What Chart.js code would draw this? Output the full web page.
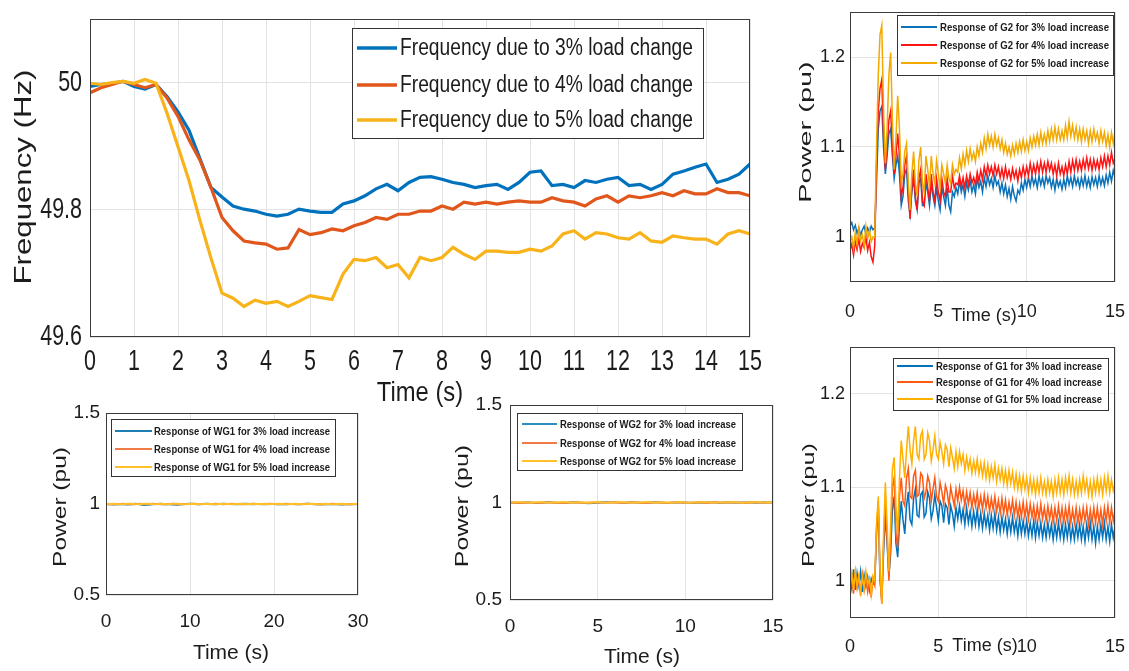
<!DOCTYPE html>
<html>
<head>
<meta charset="utf-8">
<script src="https://cdn.jsdelivr.net/npm/chart.js@4.4.1/dist/chart.umd.min.js"></script>
<style>
  html, body { margin: 0; padding: 0; background: #fff; }
  body { width: 1129px; height: 671px; position: relative; overflow: hidden; }
  canvas { position: absolute; }
</style>
</head>
<body>
<canvas id="freqChart" width="780" height="410" style="left:0px;top:0px"></canvas>
<canvas id="wg1Chart" width="400" height="271" style="left:0px;top:400px"></canvas>
<canvas id="wg2Chart" width="400" height="276" style="left:400px;top:395px"></canvas>
<canvas id="g2Chart" width="349" height="340" style="left:780px;top:0px"></canvas>
<canvas id="g1Chart" width="349" height="331" style="left:780px;top:340px"></canvas>
<script>
// ---- frequency (Hz), sampled every 0.25 s from 0 to 15 s
const freqStep = 0.25;
const freq3 = [49.994, 49.997, 49.999, 50.002, 49.994, 49.990, 49.997, 49.978, 49.954, 49.925,
  49.880, 49.835, 49.820, 49.806, 49.801, 49.798, 49.793, 49.790, 49.793, 49.801,
  49.798, 49.796, 49.796, 49.809, 49.814, 49.822, 49.833, 49.840, 49.830, 49.843,
  49.851, 49.852, 49.848, 49.843, 49.840, 49.835, 49.838, 49.840, 49.832, 49.843,
  49.859, 49.861, 49.838, 49.840, 49.835, 49.846, 49.843, 49.848, 49.851, 49.838,
  49.840, 49.832, 49.840, 49.856, 49.861, 49.867, 49.872, 49.843, 49.848, 49.856,
  49.872];
const freq4 = [49.984, 49.992, 49.997, 50.002, 49.997, 49.992, 49.997, 49.976, 49.947, 49.910,
  49.878, 49.835, 49.788, 49.767, 49.751, 49.748, 49.746, 49.738, 49.740, 49.769,
  49.761, 49.764, 49.770, 49.767, 49.775, 49.780, 49.788, 49.785, 49.793, 49.793,
  49.798, 49.798, 49.806, 49.801, 49.812, 49.809, 49.812, 49.809, 49.812, 49.814,
  49.812, 49.812, 49.819, 49.814, 49.812, 49.806, 49.817, 49.822, 49.812, 49.822,
  49.819, 49.822, 49.827, 49.822, 49.830, 49.825, 49.825, 49.833, 49.827, 49.827,
  49.822];
const freq5 = [49.999, 49.997, 50.000, 50.002, 49.999, 50.005, 49.999, 49.952, 49.899, 49.846,
  49.783, 49.724, 49.669, 49.661, 49.648, 49.658, 49.653, 49.656, 49.648, 49.656,
  49.665, 49.662, 49.659, 49.699, 49.722, 49.720, 49.725, 49.709, 49.714, 49.693,
  49.725, 49.720, 49.725, 49.741, 49.730, 49.722, 49.735, 49.735, 49.733, 49.733,
  49.738, 49.735, 49.743, 49.762, 49.767, 49.754, 49.764, 49.762, 49.756, 49.754,
  49.764, 49.751, 49.749, 49.759, 49.756, 49.754, 49.754, 49.746, 49.762, 49.767,
  49.762];
const freqXTicks = [0, 1, 2, 3, 4, 5, 6, 7, 8, 9, 10, 11, 12, 13, 14, 15];
const freqYTicks = [49.6, 49.8, 50];

// ---- synchronous generators G2 / G1 (pu), sampled every 0.1 s from 0 to 15 s
const genStep = 0.1;
const g2Load3 = [1.012, 1.016, 1.008, 1.013, 1.004, 1.010, 1.002, 1.008, 1.012, 1.003, 1.010, 1.005, 1.012, 1.008,
  1.010, 1.060, 1.120, 1.140, 1.145, 1.100, 1.070, 1.090, 1.115, 1.120, 1.090, 1.065, 1.080, 1.090, 1.070, 1.035,
  1.045, 1.070, 1.075, 1.040, 1.025, 1.050, 1.065, 1.040, 1.030, 1.060, 1.065, 1.035, 1.035, 1.060, 1.050, 1.035,
  1.060, 1.045, 1.035, 1.055, 1.040, 1.030, 1.055, 1.045, 1.035, 1.055, 1.035, 1.028, 1.050, 1.045, 1.055,
  1.048, 1.062, 1.050, 1.058, 1.045, 1.060, 1.052, 1.063, 1.050, 1.058,
  1.048, 1.065, 1.055, 1.062, 1.050, 1.066, 1.056, 1.068, 1.058, 1.065,
  1.055, 1.068, 1.058, 1.062, 1.050, 1.060, 1.048, 1.058, 1.045, 1.054,
  1.042, 1.056, 1.046, 1.040, 1.052, 1.048, 1.060, 1.052, 1.064, 1.055,
  1.066, 1.056, 1.068, 1.058, 1.065, 1.055, 1.068, 1.058, 1.066, 1.056,
  1.068, 1.060, 1.066, 1.055, 1.064, 1.052, 1.065, 1.056, 1.062, 1.053,
  1.064, 1.055, 1.068, 1.058, 1.066, 1.056, 1.068, 1.058, 1.065, 1.055,
  1.066, 1.057, 1.068, 1.056, 1.065, 1.055, 1.067, 1.058, 1.066, 1.056,
  1.068, 1.058, 1.066, 1.057, 1.069, 1.060, 1.072, 1.062, 1.074, 1.066];
const g2Load4 = [0.985, 0.992, 0.980, 0.995, 0.986, 0.998, 0.984, 0.993, 0.988, 1.000, 0.985, 0.994, 0.978, 0.972,
  0.990, 1.080, 1.140, 1.165, 1.175, 1.110, 1.075, 1.100, 1.130, 1.140, 1.100, 1.070, 1.090, 1.115, 1.090, 1.045,
  1.055, 1.080, 1.090, 1.050, 1.020, 1.055, 1.075, 1.045, 1.030, 1.065, 1.075, 1.040, 1.035, 1.070, 1.055, 1.040,
  1.070, 1.050, 1.040, 1.065, 1.050, 1.040, 1.065, 1.050, 1.045, 1.065, 1.050, 1.050, 1.068, 1.055, 1.060,
  1.058, 1.068, 1.056, 1.066, 1.055, 1.068, 1.058, 1.070, 1.060, 1.066,
  1.058, 1.072, 1.062, 1.074, 1.064, 1.078, 1.068, 1.080, 1.070, 1.078,
  1.068, 1.080, 1.070, 1.078, 1.066, 1.076, 1.065, 1.078, 1.066, 1.074,
  1.064, 1.076, 1.066, 1.074, 1.062, 1.075, 1.066, 1.078, 1.068, 1.078,
  1.068, 1.082, 1.070, 1.080, 1.070, 1.082, 1.072, 1.084, 1.072, 1.082,
  1.072, 1.084, 1.074, 1.082, 1.070, 1.080, 1.068, 1.082, 1.070, 1.078,
  1.068, 1.080, 1.070, 1.084, 1.072, 1.085, 1.074, 1.086, 1.074, 1.084,
  1.074, 1.086, 1.076, 1.088, 1.076, 1.086, 1.074, 1.086, 1.076, 1.085,
  1.075, 1.088, 1.078, 1.090, 1.078, 1.090, 1.080, 1.094, 1.082, 1.088];
const g2Load5 = [0.995, 1.000, 0.988, 1.005, 0.992, 1.010, 0.996, 1.002, 0.990, 1.012, 0.998, 1.008, 0.995, 1.000,
  1.000, 1.100, 1.180, 1.225, 1.235, 1.140, 1.082, 1.120, 1.180, 1.205, 1.130, 1.075, 1.110, 1.157, 1.120, 1.060,
  1.070, 1.095, 1.104, 1.060, 1.030, 1.070, 1.095, 1.060, 1.045, 1.085, 1.100, 1.060, 1.050, 1.090, 1.075, 1.055,
  1.090, 1.070, 1.060, 1.085, 1.070, 1.055, 1.080, 1.070, 1.060, 1.080, 1.065, 1.060, 1.080, 1.070, 1.075,
  1.072, 1.088, 1.076, 1.092, 1.080, 1.096, 1.084, 1.098, 1.086, 1.094,
  1.084, 1.100, 1.090, 1.104, 1.094, 1.110, 1.098, 1.114, 1.102, 1.112,
  1.100, 1.114, 1.102, 1.110, 1.098, 1.108, 1.094, 1.104, 1.092, 1.100,
  1.090, 1.102, 1.092, 1.104, 1.094, 1.106, 1.095, 1.108, 1.096, 1.106,
  1.096, 1.110, 1.100, 1.112, 1.102, 1.114, 1.102, 1.116, 1.104, 1.114,
  1.104, 1.118, 1.106, 1.120, 1.108, 1.122, 1.108, 1.120, 1.108, 1.118,
  1.108, 1.124, 1.110, 1.128, 1.112, 1.124, 1.110, 1.122, 1.108, 1.120,
  1.106, 1.120, 1.108, 1.118, 1.104, 1.118, 1.106, 1.120, 1.108, 1.116,
  1.104, 1.118, 1.106, 1.116, 1.102, 1.114, 1.100, 1.116, 1.104, 1.118];

const g1Load3 = [1.005, 0.992, 1.012, 0.990, 1.008, 0.995, 1.010, 0.988, 1.006, 0.994, 1.004, 0.990, 1.002, 0.996,
  0.998, 1.050, 1.080, 1.000, 0.980, 1.030, 1.070, 1.040, 1.005, 1.030,
  1.075, 1.090, 1.040, 1.025, 1.060, 1.085, 1.065, 1.050, 1.080, 1.095,
  1.065, 1.060, 1.088, 1.098, 1.070, 1.068, 1.092, 1.095, 1.068, 1.072,
  1.095, 1.088, 1.066, 1.075, 1.092, 1.078, 1.064, 1.085, 1.080, 1.062,
  1.082, 1.078, 1.060, 1.080, 1.072, 1.058, 1.078,
  1.066, 1.080, 1.064, 1.076, 1.060, 1.078, 1.062, 1.074, 1.058, 1.074,
  1.060, 1.076, 1.058, 1.072, 1.056, 1.072, 1.058, 1.070, 1.054, 1.070,
  1.056, 1.072, 1.054, 1.068, 1.052, 1.068, 1.054, 1.066, 1.050, 1.066,
  1.052, 1.068, 1.052, 1.064, 1.048, 1.066, 1.050, 1.064, 1.050, 1.064,
  1.048, 1.062, 1.048, 1.064, 1.046, 1.062, 1.048, 1.062, 1.046, 1.060,
  1.046, 1.062, 1.048, 1.060, 1.044, 1.060, 1.046, 1.062, 1.046, 1.060,
  1.044, 1.060, 1.046, 1.062, 1.044, 1.058, 1.044, 1.060, 1.046, 1.060,
  1.044, 1.058, 1.042, 1.060, 1.046, 1.062, 1.044, 1.058, 1.040, 1.058,
  1.044, 1.060, 1.046, 1.062, 1.044, 1.058, 1.042, 1.060, 1.046, 1.058];
const g1Load4 = [0.990, 1.004, 0.986, 1.008, 0.992, 1.002, 0.984, 1.006, 0.990, 1.004, 0.988, 1.000, 0.982, 1.002,
  0.995, 1.055, 1.085, 1.005, 0.975, 1.040, 1.090, 1.045, 1.000, 1.040,
  1.100, 1.110, 1.050, 1.035, 1.090, 1.110, 1.085, 1.080, 1.110, 1.120,
  1.090, 1.088, 1.112, 1.118, 1.090, 1.092, 1.115, 1.112, 1.088, 1.095,
  1.112, 1.105, 1.085, 1.098, 1.110, 1.090, 1.085, 1.105, 1.095, 1.082,
  1.102, 1.095, 1.080, 1.100, 1.090, 1.080, 1.098,
  1.085, 1.100, 1.086, 1.096, 1.080, 1.095, 1.082, 1.094, 1.078, 1.092,
  1.080, 1.094, 1.078, 1.090, 1.076, 1.092, 1.078, 1.090, 1.074, 1.088,
  1.076, 1.090, 1.074, 1.086, 1.072, 1.088, 1.072, 1.086, 1.070, 1.084,
  1.072, 1.086, 1.070, 1.084, 1.068, 1.082, 1.068, 1.084, 1.068, 1.082,
  1.066, 1.082, 1.068, 1.080, 1.064, 1.080, 1.066, 1.082, 1.066, 1.078,
  1.064, 1.080, 1.066, 1.078, 1.062, 1.078, 1.064, 1.080, 1.064, 1.078,
  1.062, 1.078, 1.064, 1.080, 1.062, 1.076, 1.062, 1.078, 1.062, 1.076,
  1.062, 1.078, 1.064, 1.078, 1.060, 1.076, 1.062, 1.078, 1.062, 1.078,
  1.062, 1.076, 1.060, 1.078, 1.064, 1.080, 1.062, 1.078, 1.064, 1.076];
const g1Load5 = [0.995, 1.008, 0.990, 1.010, 0.994, 1.006, 0.988, 1.004, 0.992, 1.010, 0.996, 1.002, 0.985, 1.005,
  1.000, 1.060, 1.090, 1.010, 0.975, 1.050, 1.105, 1.060, 1.010, 1.060,
  1.120, 1.132, 1.080, 1.050, 1.110, 1.150, 1.130, 1.110, 1.140, 1.165,
  1.140, 1.125, 1.150, 1.165, 1.135, 1.130, 1.155, 1.160, 1.130, 1.135,
  1.158, 1.150, 1.128, 1.140, 1.155, 1.135, 1.130, 1.148, 1.138, 1.125,
  1.145, 1.140, 1.122, 1.142, 1.132, 1.120, 1.138,
  1.122, 1.138, 1.125, 1.135, 1.118, 1.132, 1.120, 1.130, 1.115, 1.128,
  1.116, 1.130, 1.114, 1.126, 1.112, 1.126, 1.110, 1.124, 1.108, 1.122,
  1.110, 1.124, 1.106, 1.120, 1.108, 1.120, 1.104, 1.118, 1.102, 1.118,
  1.104, 1.116, 1.100, 1.114, 1.098, 1.112, 1.096, 1.112, 1.098, 1.110,
  1.094, 1.110, 1.095, 1.108, 1.092, 1.108, 1.094, 1.110, 1.094, 1.106,
  1.092, 1.108, 1.094, 1.106, 1.090, 1.108, 1.094, 1.110, 1.094, 1.108,
  1.092, 1.110, 1.096, 1.112, 1.094, 1.108, 1.092, 1.106, 1.092, 1.108,
  1.094, 1.112, 1.096, 1.108, 1.092, 1.106, 1.090, 1.108, 1.094, 1.110,
  1.094, 1.108, 1.092, 1.110, 1.096, 1.112, 1.094, 1.108, 1.096, 1.104];
const genXTicks = [0, 5, 10, 15];
const genYTicks = [1, 1.1, 1.2];

// ---- wind generators WG1 (every 0.5 s, 0-30 s) and WG2 (every 0.25 s, 0-15 s)
const wg1Step = 0.5;
const wg1Load3 = [1.000, 0.998, 0.997, 1.000, 0.999, 0.997, 0.998, 1.001, 0.999, 0.995,
  0.996, 0.999, 1.000, 1.001, 0.999, 0.998, 0.997, 0.996, 0.998, 1.000,
  1.001, 1.000, 0.999, 1.000, 1.001, 1.000, 0.999, 1.000, 1.001, 1.000,
  1.000, 0.999, 1.000, 1.001, 1.000, 0.999, 1.000, 1.000, 0.999, 1.000,
  1.000, 0.999, 0.998, 0.999, 1.000, 1.000, 0.999, 1.000, 1.001, 1.000,
  0.999, 0.998, 0.999, 1.000, 0.999, 0.998, 0.997, 0.999, 1.000, 0.999, 1.000];
const wg1Load4 = [0.999, 1.000, 0.998, 0.999, 1.001, 1.000, 0.998, 0.999, 1.001, 1.000,
  0.999, 1.001, 1.000, 0.999, 0.998, 1.000, 1.001, 0.999, 0.998, 1.000,
  1.000, 1.001, 0.999, 1.000, 1.000, 0.999, 1.001, 1.000, 0.999, 1.000,
  1.001, 1.000, 0.999, 0.998, 1.000, 1.001, 1.000, 0.999, 1.000, 1.001,
  1.000, 0.999, 1.000, 1.001, 1.000, 0.999, 0.998, 1.000, 1.001, 1.000,
  0.999, 0.997, 0.998, 1.000, 1.001, 1.000, 0.999, 1.000, 0.999, 1.000, 1.000];
const wg1Load5 = [1.001, 1.000, 1.002, 1.000, 0.999, 1.001, 1.002, 1.000, 0.999, 1.001,
  1.002, 1.000, 0.999, 1.001, 1.000, 0.999, 1.001, 1.002, 1.000, 0.999,
  1.000, 1.001, 1.000, 0.999, 1.001, 1.000, 0.999, 1.000, 1.001, 1.000,
  0.999, 1.000, 1.001, 1.000, 0.999, 1.001, 1.000, 1.000, 1.001, 0.999,
  1.000, 1.001, 1.000, 0.999, 1.000, 1.001, 1.000, 0.999, 1.000, 1.001,
  1.000, 0.999, 1.001, 1.000, 0.999, 1.000, 1.001, 1.000, 0.999, 1.000, 1.001];
const wg1XTicks = [0, 10, 20, 30];

const wg2Step = 0.25;
const wg2Load3 = [1.000, 0.999, 0.998, 1.000, 1.001, 0.999, 0.998, 0.999, 1.000, 1.001,
  1.000, 0.999, 0.998, 0.999, 1.000, 1.001, 1.000, 0.998, 0.996, 0.997,
  0.999, 1.000, 1.001, 1.002, 1.001, 1.000, 0.999, 1.000, 1.001, 1.000,
  0.999, 0.998, 1.000, 1.001, 1.000, 0.999, 0.998, 0.999, 1.000, 1.001,
  1.000, 0.999, 0.998, 0.999, 1.000, 1.001, 1.000, 0.999, 0.998, 1.000,
  1.001, 1.000, 0.999, 1.000, 1.001, 1.000, 0.999, 1.000, 1.001, 1.000, 1.000];
const wg2Load4 = [0.999, 1.000, 0.998, 0.997, 0.999, 1.000, 0.999, 0.998, 1.000, 1.001,
  0.999, 0.998, 0.997, 0.999, 1.000, 1.001, 0.999, 0.998, 0.999, 1.000,
  1.001, 1.000, 0.999, 1.000, 1.001, 0.999, 0.998, 1.000, 1.001, 1.000,
  0.998, 0.997, 0.999, 1.000, 1.001, 0.999, 0.998, 1.000, 1.001, 1.000,
  0.999, 0.998, 1.000, 1.001, 0.999, 0.998, 1.000, 1.001, 1.000, 0.999,
  1.000, 1.001, 1.000, 0.999, 0.998, 1.000, 1.001, 1.000, 0.999, 1.000, 1.000];
const wg2Load5 = [1.001, 1.000, 1.002, 1.001, 1.000, 0.999, 1.001, 1.002, 1.000, 0.999,
  1.001, 1.000, 1.002, 1.001, 0.999, 1.000, 1.001, 1.000, 0.999, 1.001,
  1.002, 1.000, 0.999, 1.001, 1.000, 1.002, 1.001, 1.000, 0.999, 1.001,
  1.000, 1.002, 1.001, 0.999, 1.000, 1.001, 1.000, 0.999, 1.001, 1.002,
  1.000, 0.999, 1.001, 1.000, 1.002, 1.001, 1.000, 0.999, 1.001, 1.000,
  1.001, 1.002, 1.000, 0.999, 1.001, 1.000, 1.001, 1.002, 1.000, 1.001, 1.000];
const windYTicks = [0.5, 1, 1.5];

const gridColor = '#e3e3e3';
const inkColor = '#1c1c1c';
const sans = "'Liberation Sans', Arial, sans-serif";

const toPoints = (vals, step) => vals.map((v, i) => ({ x: +(i * step).toFixed(2), y: v }));

// text with an extra horizontal squeeze (the figure uses condensed lettering)
function squeezedText(ctx, text, x, y, sx, align) {
  ctx.save();
  ctx.translate(x, y);
  ctx.scale(sx, 1);
  ctx.textAlign = align;
  ctx.textBaseline = 'middle';
  ctx.fillText(text, 0, 0);
  ctx.restore();
}

// MATLAB-like box around the axes, axis titles, optional condensed ticks, boxed legend
const matlabBox = {
  id: 'matlabBox',
  afterDraw(chart, args, opts) {
    const { ctx, chartArea: a } = chart;
    ctx.save();
    ctx.strokeStyle = '#3c3c3c';
    ctx.lineWidth = 1;
    ctx.strokeRect(Math.round(a.left) + 0.5, Math.round(a.top) + 0.5,
      Math.round(a.right - a.left) - 1, Math.round(a.bottom - a.top) - 1);
    ctx.fillStyle = inkColor;

    const tk = opts.ticks;
    if (tk) {
      const xs = chart.scales.x, ys = chart.scales.y;
      ctx.font = tk.font;
      xs.ticks.forEach(t => squeezedText(ctx, String(t.value), xs.getPixelForValue(t.value), a.bottom + tk.xGap, tk.sx, 'center'));
      ys.ticks.forEach(t => squeezedText(ctx, String(t.value), a.left - tk.yGap, ys.getPixelForValue(t.value), tk.sx, 'right'));
    }

    const xt = opts.xTitle;
    if (xt) {
      ctx.font = xt.font;
      squeezedText(ctx, xt.text, xt.x, xt.y, xt.sx, 'center');
    }

    const yt = opts.yTitle;
    if (yt) {
      ctx.save();
      ctx.translate(yt.x, yt.y);
      ctx.rotate(-Math.PI / 2);
      ctx.font = yt.font;
      squeezedText(ctx, yt.text, 0, 0, yt.stretch, 'center');
      ctx.restore();
    }

    const lg = opts.legend;
    if (lg) {
      ctx.fillStyle = '#fff';
      ctx.fillRect(lg.x, lg.y, lg.w, lg.h);
      ctx.strokeStyle = '#333';
      ctx.lineWidth = 1;
      ctx.strokeRect(lg.x + 0.5, lg.y + 0.5, lg.w, lg.h);
      ctx.font = lg.font;
      const first = chart.data.datasets[0].label;
      const sx = Math.min(1, lg.textWidth / ctx.measureText(first).width);
      chart.data.datasets.forEach((ds, i) => {
        const y = lg.rows[i];
        ctx.strokeStyle = ds.borderColor;
        ctx.lineWidth = lg.lineWidth;
        ctx.beginPath();
        ctx.moveTo(lg.x1, y);
        ctx.lineTo(lg.x2, y);
        ctx.stroke();
        ctx.fillStyle = inkColor;
        squeezedText(ctx, ds.label, lg.tx, y + 1, sx, 'left');
      });
    }
    ctx.restore();
  }
};

function makeChart(id, spec) {
  const ownTicks = !!spec.customTicks;
  return new Chart(document.getElementById(id), {
    type: 'line',
    data: {
      datasets: spec.series.map((s, i) => ({
        label: s.label,
        data: toPoints(s.values, spec.step),
        borderColor: s.color,
        borderWidth: spec.lineWidth,
        pointRadius: 0,
        tension: 0,
        fill: false,
        order: spec.series.length - i
      }))
    },
    options: {
      responsive: false,
      animation: false,
      devicePixelRatio: 1,
      layout: { padding: { top: spec.padTop, right: spec.padRight, bottom: 0, left: 0 } },
      plugins: {
        legend: { display: false },
        tooltip: { enabled: false },
        matlabBox: { legend: spec.legend, yTitle: spec.yTitle, xTitle: spec.xTitle, ticks: spec.customTicks }
      },
      scales: {
        x: {
          type: 'linear',
          min: spec.xMin,
          max: spec.xMax,
          grid: { color: gridColor, drawTicks: false },
          border: { display: false },
          afterBuildTicks: s => { s.ticks = spec.xTicks.map(v => ({ value: v })); },
          afterFit: s => { s.height = spec.xAxisHeight; s.paddingLeft = 0; s.paddingRight = 0; },
          ticks: {
            display: !ownTicks,
            padding: spec.xTickPad,
            autoSkip: false,
            maxRotation: 0,
            color: inkColor,
            font: spec.tickFont,
            callback: v => String(v)
          }
        },
        y: {
          min: spec.yMin,
          max: spec.yMax,
          grid: { color: gridColor, drawTicks: false },
          border: { display: false },
          afterBuildTicks: s => { s.ticks = spec.yTicks.map(v => ({ value: v })); },
          afterFit: s => { s.width = spec.yAxisWidth; s.paddingTop = 0; s.paddingBottom = 0; },
          ticks: {
            display: !ownTicks,
            padding: spec.yTickPad,
            color: inkColor,
            font: spec.tickFont,
            callback: v => String(v)
          }
        }
      }
    },
    plugins: [matlabBox]
  });
}

makeChart('freqChart', {
  step: freqStep, lineWidth: 3.2,
  series: [
    { label: 'Frequency due to 3% load change', values: freq3, color: '#0072BD' },
    { label: 'Frequency due to 4% load change', values: freq4, color: '#E0561B' },
    { label: 'Frequency due to 5% load change', values: freq5, color: '#F8B31A' }
  ],
  padTop: 19, padRight: 30,
  xMin: 0, xMax: 15, xTicks: freqXTicks, xAxisHeight: 73,
  yMin: 49.6, yMax: 50.1, yTicks: freqYTicks, yAxisWidth: 90,
  customTicks: { font: '29px ' + sans, sx: 0.74, xGap: 25, yGap: 8 },
  xTitle: { text: 'Time (s)', x: 420, y: 393, font: '28px ' + sans, sx: 0.85 },
  yTitle: { text: 'Frequency (Hz)', x: 24, y: 177, font: '24px ' + sans, stretch: 1.3 },
  legend: { x: 352, y: 28, w: 351, h: 110, rows: [48, 85, 120], x1: 357, x2: 397, tx: 400,
    textWidth: 293, font: '23px ' + sans, lineWidth: 3.5 }
});

makeChart('wg1Chart', {
  step: wg1Step, lineWidth: 2,
  series: [
    { label: 'Response of WG1 for 3% load increase', values: wg1Load3, color: '#1F7FB4' },
    { label: 'Response of WG1 for 4% load increase', values: wg1Load4, color: '#F07A45' },
    { label: 'Response of WG1 for 5% load increase', values: wg1Load5, color: '#FFC02A' }
  ],
  padTop: 13, padRight: 42,
  xMin: 0, xMax: 30, xTicks: wg1XTicks, xAxisHeight: 76, xTickPad: 15,
  tickFont: { family: sans, size: 19 },
  yMin: 0.5, yMax: 1.5, yTicks: windYTicks, yAxisWidth: 106, yTickPad: 6,
  xTitle: { text: 'Time (s)', x: 231, y: 253, font: '21px ' + sans, sx: 1 },
  yTitle: { text: 'Power (pu)', x: 61, y: 107, font: '19px ' + sans, stretch: 1.29 },
  legend: { x: 111, y: 19, w: 224, h: 57, rows: [31, 49, 67], x1: 115, x2: 152, tx: 154,
    textWidth: 176, font: 'bold 11.5px ' + sans, lineWidth: 2 }
});

makeChart('wg2Chart', {
  step: wg2Step, lineWidth: 2,
  series: [
    { label: 'Response of WG2 for 3% load increase', values: wg2Load3, color: '#2A8FBF' },
    { label: 'Response of WG2 for 4% load increase', values: wg2Load4, color: '#F07A45' },
    { label: 'Response of WG2 for 5% load increase', values: wg2Load5, color: '#FFC02A' }
  ],
  padTop: 10, padRight: 27,
  xMin: 0, xMax: 15, xTicks: genXTicks, xAxisHeight: 71, xTickPad: 15,
  tickFont: { family: sans, size: 19 },
  yMin: 0.5, yMax: 1.5, yTicks: windYTicks, yAxisWidth: 110, yTickPad: 8,
  xTitle: { text: 'Time (s)', x: 242, y: 262, font: '21px ' + sans, sx: 1 },
  yTitle: { text: 'Power (pu)', x: 63, y: 111, font: '18px ' + sans, stretch: 1.39 },
  legend: { x: 117, y: 18, w: 225, h: 57, rows: [29, 48, 66], x1: 122, x2: 157, tx: 160,
    textWidth: 176, font: 'bold 11.5px ' + sans, lineWidth: 2 }
});

makeChart('g2Chart', {
  step: genStep, lineWidth: 1.5,
  series: [
    { label: 'Response of G2 for 3% load increase', values: g2Load3, color: '#0B72BA' },
    { label: 'Response of G2 for 4% load increase', values: g2Load4, color: '#FF1414' },
    { label: 'Response of G2 for 5% load increase', values: g2Load5, color: '#F2A900' }
  ],
  padTop: 12, padRight: 14,
  xMin: 0, xMax: 15, xTicks: genXTicks, xAxisHeight: 58, xTickPad: 19,
  tickFont: { family: sans, size: 18 },
  yMin: 0.95, yMax: 1.25, yTicks: genYTicks, yAxisWidth: 70, yTickPad: 5,
  xTitle: { text: 'Time (s)', x: 204, y: 316, font: '18px ' + sans, sx: 1 },
  yTitle: { text: 'Power (pu)', x: 26, y: 132, font: '17px ' + sans, stretch: 1.7 },
  legend: { x: 117, y: 15, w: 216, h: 60, rows: [27, 45, 63], x1: 121, x2: 157, tx: 160,
    textWidth: 169, font: 'bold 11.5px ' + sans, lineWidth: 2 }
});

makeChart('g1Chart', {
  step: genStep, lineWidth: 1.5,
  series: [
    { label: 'Response of G1 for 3% load increase', values: g1Load3, color: '#0072BD' },
    { label: 'Response of G1 for 4% load increase', values: g1Load4, color: '#FF5A14' },
    { label: 'Response of G1 for 5% load increase', values: g1Load5, color: '#FFB000' }
  ],
  padTop: 7, padRight: 14,
  xMin: 0, xMax: 15, xTicks: genXTicks, xAxisHeight: 53, xTickPad: 18,
  tickFont: { family: sans, size: 18 },
  yMin: 0.96, yMax: 1.25, yTicks: genYTicks, yAxisWidth: 70, yTickPad: 5,
  xTitle: { text: 'Time (s)', x: 205, y: 306, font: '18px ' + sans, sx: 1 },
  yTitle: { text: 'Power (pu)', x: 29, y: 165, font: '17px ' + sans, stretch: 1.49 },
  legend: { x: 113, y: 18, w: 215, h: 52, rows: [26, 42, 59], x1: 117, x2: 153, tx: 156,
    textWidth: 166, font: 'bold 11px ' + sans, lineWidth: 2 }
});
</script>
</body>
</html>
